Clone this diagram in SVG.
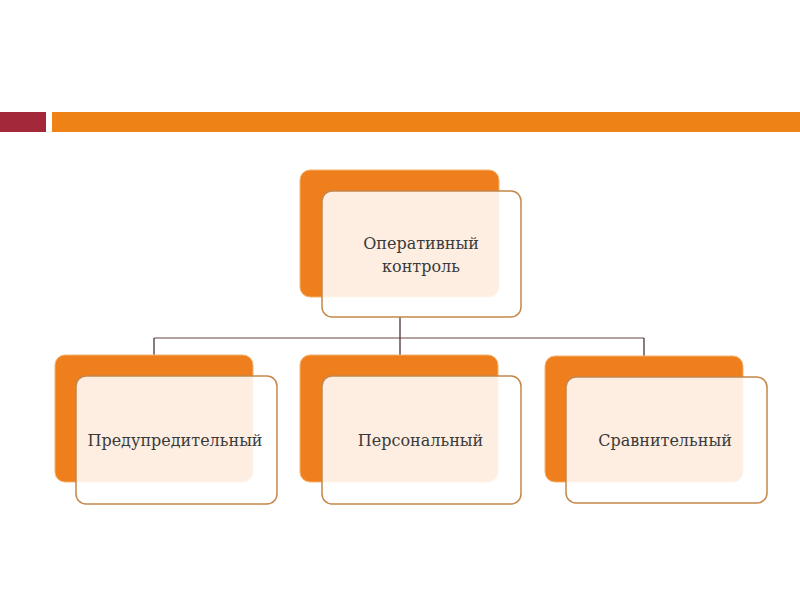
<svg xmlns="http://www.w3.org/2000/svg" width="800" height="600" viewBox="0 0 800 600">
<style>
.back{fill:#EE7F1C;stroke:#F4B36E;stroke-width:1}
.front{fill:#FFFFFF;fill-opacity:0.87;stroke:#C4864A;stroke-width:1.5}
.lbl{font-family:"DejaVu Serif","Liberation Serif",serif;font-size:16px;fill:#3a3a3a;text-anchor:middle}
.conn{fill:none;stroke-width:1.3}
</style>
<rect x="0" y="0" width="800" height="600" fill="#FFFFFF"/>
<g id="header">
<rect x="0" y="112" width="46" height="20" fill="#A3293A"/>
<rect x="52" y="112" width="748" height="20" fill="#EE8217"/>
</g>
<g id="connectors">
<path class="conn" stroke="#9C8282" d="M154 338 H644"/>
<path class="conn" stroke="#4E3434" d="M400 317 V355 M154 338 V355 M644 338 V356"/>
</g>
<g id="node-top">
<rect class="back" x="300" y="170" width="199" height="127" rx="10"/>
<rect class="front" x="322" y="191" width="199" height="126" rx="10"/>
<text class="lbl" x="421" y="249">Оперативный</text>
<text class="lbl" x="421" y="272">контроль</text>
</g>
<g id="node-left">
<rect class="back" x="55" y="355" width="198" height="127" rx="10"/>
<rect class="front" x="76" y="376" width="201" height="128" rx="10"/>
<text class="lbl" x="175" y="446">Предупредительный</text>
</g>
<g id="node-middle">
<rect class="back" x="300" y="355" width="198" height="127" rx="10"/>
<rect class="front" x="322" y="376" width="199" height="128" rx="10"/>
<text class="lbl" x="420.5" y="446">Персональный</text>
</g>
<g id="node-right">
<rect class="back" x="545" y="356" width="198" height="126" rx="10"/>
<rect class="front" x="566" y="377" width="201" height="126" rx="10"/>
<text class="lbl" x="665" y="446">Сравнительный</text>
</g>
</svg>
